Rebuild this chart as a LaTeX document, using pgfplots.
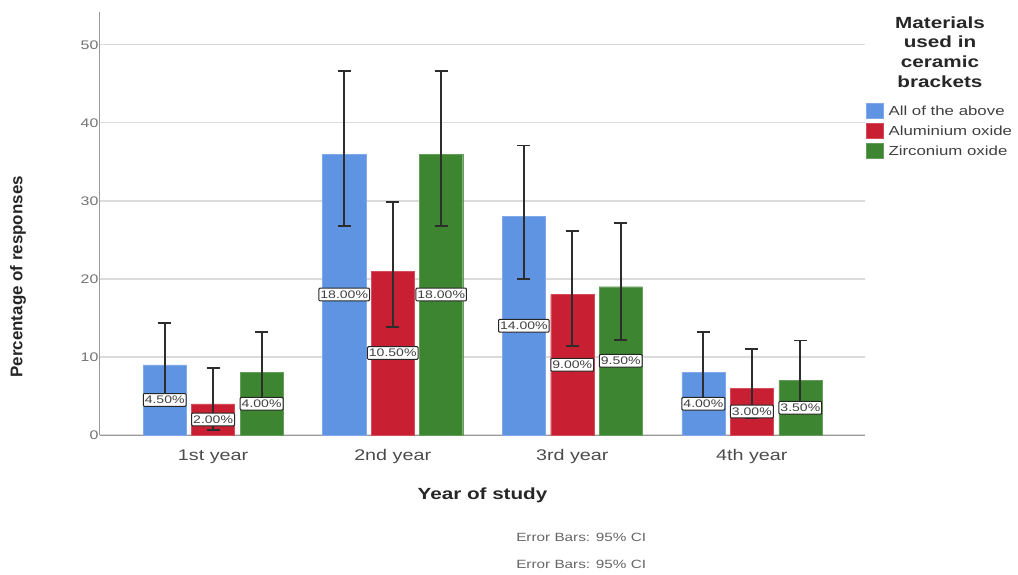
\documentclass[border=0pt]{standalone}
\usepackage{pgfplots}
\pgfplotsset{compat=1.18}
\usepackage{fontspec}
\setmainfont{Liberation Sans}[FakeStretch=1.28]
\newfontfamily\plainfont{Liberation Sans}
\definecolor{cblue}{RGB}{95,148,226}
\definecolor{cred}{RGB}{200,32,50}
\definecolor{cgreen}{RGB}{62,133,50}
\definecolor{ebar}{RGB}{45,45,45}
\begin{document}
\begin{tikzpicture}
\path[use as bounding box] (-100bp,-140bp) rectangle (918bp,435bp);
\begin{axis}[
  at={(0,0)}, anchor=south west,
  scale only axis, width=765bp, height=423bp,
  xmin=-0.63, xmax=3.63, ymin=0, ymax=54.2,
  axis lines=left,
  axis line style={-, draw=black!40, line width=1bp},
  ytick={0,10,20,30,40,50},
  xtick={0,1,2,3},
  xticklabels={1st year,2nd year,3rd year,4th year},
  major tick length=0pt,
  ymajorgrids,
  grid style={black!14, line width=1.3bp},
  /pgf/number format/assume math mode=true,
  yticklabel style={font=\fontsize{12.5}{14}\selectfont, text=black!55, xshift=2bp},
  xticklabel style={font=\fontsize{15.5}{18}\selectfont, text=black!70, yshift=-11bp},
  xlabel={\bfseries Year of study},
  xlabel style={at={(axis description cs:0.5,-0.142)}, anchor=center, font=\fontsize{16.2}{19}\selectfont, text=black!85},
  ylabel={\plainfont\bfseries Percentage of responses},
  ylabel style={at={(axis description cs:-0.107,0.374)}, anchor=center, font=\fontsize{17}{20}\selectfont, text=black!85},
  clip=false,
  legend cell align=left,
  legend style={at={(axis description cs:1.0013,0.785)}, anchor=north west, draw=none, fill=none,
    font=\fontsize{13.2}{15}\selectfont, text=black!75, row sep=4.5bp, inner sep=0pt,
    nodes={inner xsep=5bp, inner ysep=1bp}},
  legend image code/.code={\fill[#1] (0bp,-7bp) rectangle (17bp,8bp);},
  error bars/y dir=both, error bars/y explicit,
  error bars/error bar style={draw=ebar, line width=1.8bp},
  error bars/error mark options={rotate=90, mark size=6.5bp, draw=ebar, line width=1.8bp},
]
\addplot[ybar, bar width=0.24, bar shift=0pt, fill=cblue, draw=cblue!80!white]
  coordinates {(-0.27,9) += (0,5.4) -= (0,4.4)
               (0.73,36) += (0,10.6) -= (0,9.2)
               (1.73,28) += (0,9.1) -= (0,8)
               (2.73,8) += (0,5.2) -= (0,4.5)};
\addplot[ybar, bar width=0.24, bar shift=0pt, fill=cred, draw=cred!80!white]
  coordinates {(0,4) += (0,4.6) -= (0,3.4)
               (1,21) += (0,8.9) -= (0,7.2)
               (2,18) += (0,8.1) -= (0,6.6)
               (3,6) += (0,5) -= (0,3.8)};
\addplot[ybar, bar width=0.24, bar shift=0pt, fill=cgreen, draw=cgreen!80!white]
  coordinates {(0.27,8) += (0,5.2) -= (0,4.4)
               (1.27,36) += (0,10.6) -= (0,9.2)
               (2.27,19) += (0,8.2) -= (0,6.8)
               (3.27,7) += (0,5.1) -= (0,4.1)};
\legend{All of the above,Aluminium oxide,Zirconium oxide}
\addplot[draw=none, mark=none, forget plot, error bars/y dir=none,
  nodes near coords, point meta=explicit symbolic,
  nodes near coords style={anchor=center, draw=black!85, line width=1bp, fill=white,
    inner xsep=1.5bp, inner ysep=2.5bp, rounded corners=1bp, text=black!75,
    font=\fontsize{11}{13}\selectfont}]
  coordinates {(-0.27,4.5) [4.50\%] (0,2) [2.00\%] (0.27,4) [4.00\%]
               (0.73,18) [18.00\%] (1,10.5) [10.50\%] (1.27,18) [18.00\%]
               (1.73,14) [14.00\%] (2,9) [9.00\%] (2.27,9.5) [9.50\%]
               (2.73,4) [4.00\%] (3,3) [3.00\%] (3.27,3.5) [3.50\%]};
\node[align=center, font=\fontsize{16.2}{20}\selectfont\bfseries, text=black!85]
  at (axis description cs:1.098,0.905) {Materials\\used in\\ceramic\\brackets};
\node[font=\fontsize{12}{14}\selectfont, text=black!60] at (axis description cs:0.629,-0.241) {Error Bars: 95\% CI};
\node[font=\fontsize{12}{14}\selectfont, text=black!60] at (axis description cs:0.629,-0.307) {Error Bars: 95\% CI};
\end{axis}
\end{tikzpicture}
\end{document}
